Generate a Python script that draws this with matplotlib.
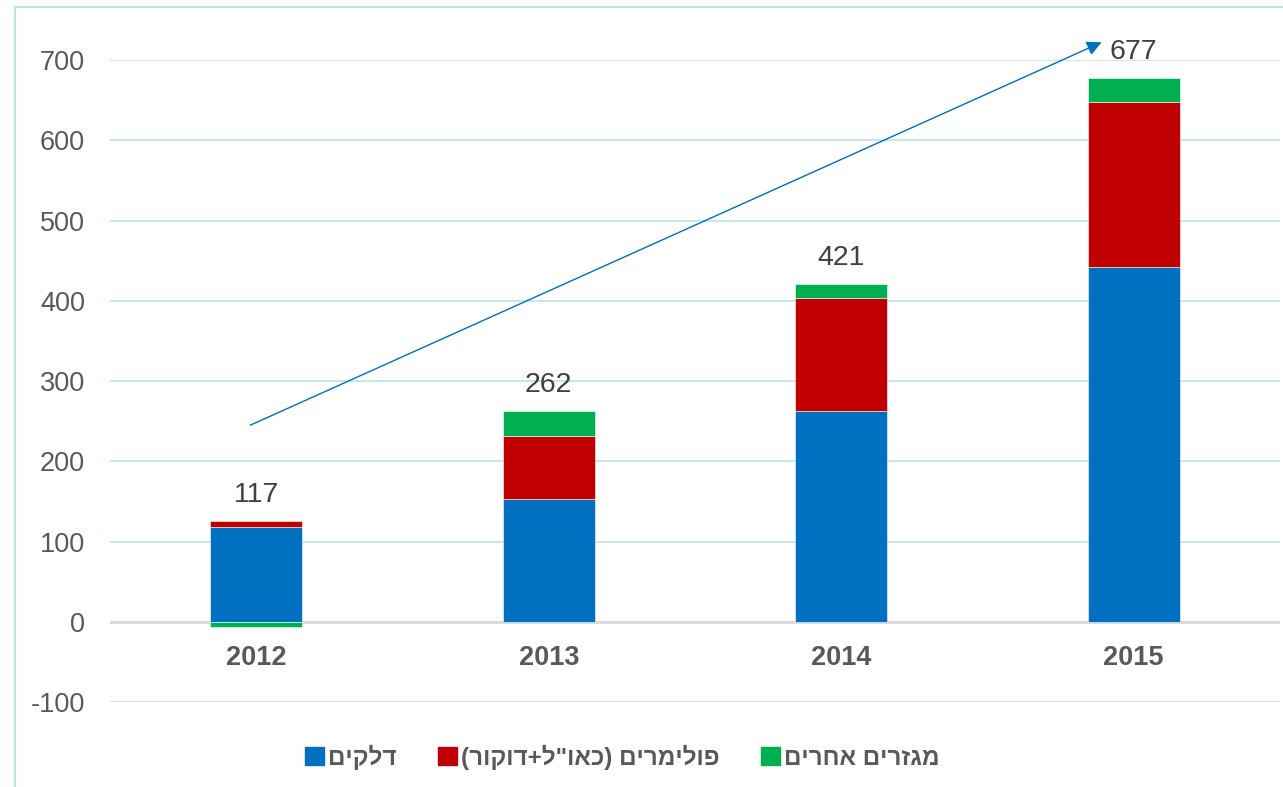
#!/usr/bin/env python3

import matplotlib

matplotlib.use("Agg")
import matplotlib.pyplot as plt
from matplotlib.patches import Patch, Rectangle

# data
years = ["2012", "2013", "2014", "2015"]
fuels = [118, 153, 263, 442]
polymers = [7, 79, 141, 206]
other_sectors = [-7, 30, 17, 29]
totals = [117, 262, 421, 677]
series_names = ["דלקים", 'פולימרים (כאו"ל+דוקור)', "מגזרים אחרים"]
y_ticks = [-100, 0, 100, 200, 300, 400, 500, 600, 700]

# trend arrow, in (category index, value)
trend_start = (-0.02, 245)
trend_end = (2.89, 722)

BLUE = "#0070c0"
RED = "#c00000"
GREEN = "#00b050"
GRID = "#bde3e8"
TEXT = "#595959"

plt.rcParams["font.family"] = ["Liberation Sans", "DejaVu Sans"]
plt.rcParams["axes.unicode_minus"] = False


def visual(text: str) -> str:
    # matplotlib has no bidi support, so lay the Hebrew out right to left by hand
    swap = {"(": ")", ")": "("}
    return "".join(swap.get(ch, ch) for ch in reversed(text))


fig = plt.figure(figsize=(12.83, 7.87), dpi=100)
ax = fig.add_axes([110 / 1283, 1 - 702 / 787, 1170 / 1283, 642 / 787])

# light blue frame around the chart
fig.patches.append(
    Rectangle((15 / 1283, -0.05), 1.2, 1.05 - 7 / 787, transform=fig.transFigure,
              fill=False, edgecolor=GRID, linewidth=1.5, zorder=0)
)

x = list(range(len(years)))
width = 0.315
ax.bar(x, fuels, width, color=BLUE, edgecolor="white", linewidth=0.4, zorder=3)
ax.bar(x, polymers, width, bottom=fuels, color=RED, edgecolor="white", linewidth=0.4, zorder=3)
pos_bottom = [f + p for f, p in zip(fuels, polymers)]
other_bottom = [pb if o >= 0 else 0 for pb, o in zip(pos_bottom, other_sectors)]
ax.bar(x, other_sectors, width, bottom=other_bottom, color=GREEN, edgecolor="white",
       linewidth=0.4, zorder=3)

# totals above the stacks
for i, total in enumerate(totals):
    top = max(pos_bottom[i], pos_bottom[i] + other_sectors[i])
    ax.annotate(str(total), (i, top), xytext=(0, 26), textcoords="offset pixels",
                ha="center", va="center", fontsize=20.5, color="#404040",
                annotation_clip=False)

# year labels just under the zero line
for i, year in enumerate(years):
    ax.annotate(year, (i, 0), xytext=(0, -36), textcoords="offset pixels",
                ha="center", va="center", fontsize=19.5, fontweight="bold", color=TEXT,
                annotation_clip=False)

ax.annotate("", xy=trend_end, xytext=trend_start,
            arrowprops=dict(arrowstyle="-|>", color=BLUE, lw=1.0, mutation_scale=22,
                            shrinkA=0, shrinkB=0),
            annotation_clip=False)

ax.set_xlim(-0.5, 3.5)
ax.set_ylim(-100, 700)
ax.set_yticks(y_ticks)
ax.set_xticks([])
ax.tick_params(axis="y", length=0, pad=18, labelsize=19.5, labelcolor=TEXT)
for spine in ax.spines.values():
    spine.set_visible(False)
ax.grid(axis="y", color=GRID, linewidth=1.2, zorder=0)
ax.axhline(0, color="#d9d9d9", linewidth=2, zorder=2)

handles = [Patch(color=c) for c in (BLUE, RED, GREEN)]
fig.legend(handles, [visual(s) for s in series_names], loc="center",
           bbox_to_anchor=(622 / 1283, 1 - 757 / 787), ncol=3, frameon=False,
           prop={"size": 17.5, "weight": "bold"}, labelcolor=TEXT,
           handlelength=0.8, handleheight=0.8, handletextpad=0.15, columnspacing=1.7)

fig.savefig("out.png", dpi=100)
plt.close(fig)
